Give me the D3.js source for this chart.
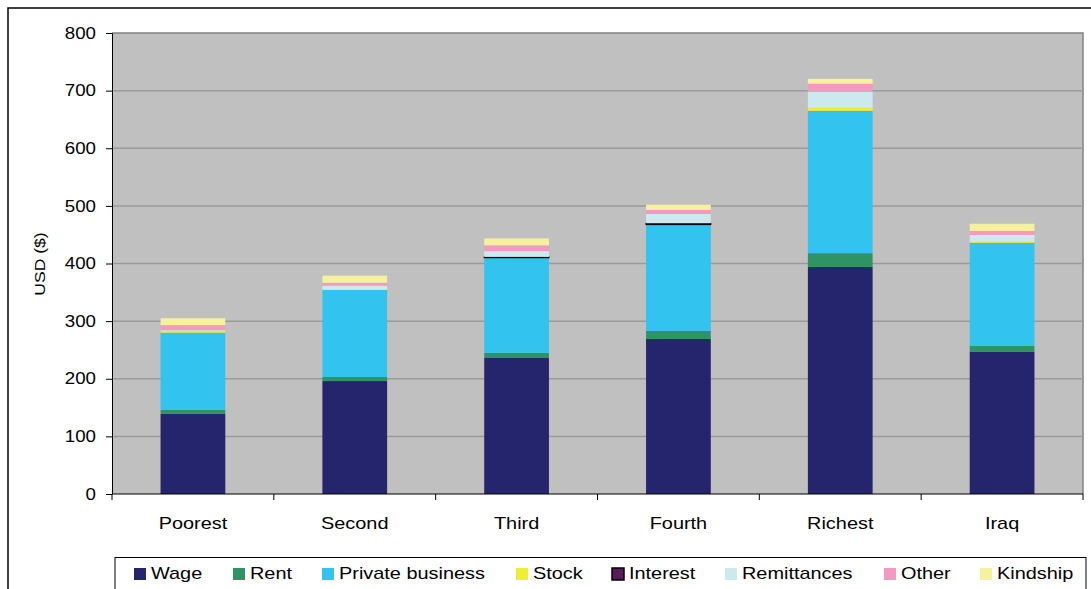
<!DOCTYPE html>
<html><head><meta charset="utf-8">
<script src="https://cdn.jsdelivr.net/npm/d3@7"></script>
<style>body{margin:0;background:#fff}svg{display:block;font-family:"Liberation Sans",Arial,sans-serif}</style>
</head><body><svg id="c" width="1091" height="589"></svg>
<script>
const categories = ["Poorest","Second","Third","Fourth","Richest","Iraq"];
const seriesNames = ["Wage","Rent","Private business","Stock","Interest","Remittances","Other","Kindship"];
const seriesColors = ["#25256E","#2E9465","#33C3EF","#EEEE33","#5A1A5A","#CCEAEE","#F39AC2","#F5F19E"];
const wage = [139,196,236,269,394,246.5];
const rent = [7,7,9,14,24,10.5];
const privateBusiness = [134,151,165,184.5,247,179];
const stock = [3.5,0.5,0,0,5,1.5];
const interest = [0,0,1.5,2.5,0,0];
const remittances = [1,7,10,16,28,12];
const other = [8.5,5,10,7,14,7];
const kindship = [12,12.5,12,9,8.5,12.5];
const yTicks = [0,100,200,300,400,500,600,700,800];

const SX = 1.17; // horizontal stretch of the original text rendering
const seriesValues = [wage,rent,privateBusiness,stock,interest,remittances,other,kindship];
const rows = categories.map((c,i)=>{const o={cat:c}; seriesNames.forEach((s,j)=>o[s]=seriesValues[j][i]); return o;});
const stacked = d3.stack().keys(seriesNames)(rows);

const svg = d3.select("#c");
svg.append("rect").attr("x",8).attr("y",8).attr("width",1100).attr("height",600).attr("fill","#fff").attr("stroke","#000").attr("stroke-width",1.5);

const L=112,T=33,R=1083,B=494;
const x = d3.scaleBand().domain(categories).range([L,R]).paddingInner(0.6).paddingOuter(0.3);
const y = d3.scaleLinear().domain([0,800]).range([B,T]);

svg.append("rect").attr("x",L).attr("y",T).attr("width",R-L).attr("height",B-T).attr("fill","#C0C0C0");
svg.append("path").attr("d",`M${L},${T}H${R}V${B}`).attr("fill","none").attr("stroke","#808080").attr("stroke-width",1.5);
svg.append("g").selectAll("line").data(yTicks.filter(t=>t>0&&t<800)).join("line")
  .attr("x1",L).attr("x2",R).attr("y1",d=>y(d)).attr("y2",d=>y(d)).attr("stroke","#9A9A9A").attr("stroke-width",1.5);

stacked.forEach((s,j)=>{
  svg.append("g").selectAll("rect").data(s).join("rect")
    .attr("x",d=>x(d.data.cat)).attr("width",x.bandwidth())
    .attr("y",d=>y(d[1])).attr("height",d=>Math.max(0,y(d[0])-y(d[1])))
    .attr("fill",seriesColors[j])
    .attr("stroke",d=>(seriesNames[j]==="Interest"&&d[1]-d[0]>0)?"#000":"none")
    .attr("stroke-width",1);
});

const yAxis = d3.axisLeft(y).tickValues(yTicks).tickSize(6).tickPadding(8).tickFormat(d3.format("d"));
const gy = svg.append("g").attr("transform",`translate(${L},0)`).call(yAxis);
gy.select(".domain").attr("stroke","#000");
gy.selectAll(".tick line").attr("stroke","#000");
gy.selectAll("text").attr("font-size",16).attr("fill","#000").attr("font-family","Liberation Sans, Arial, sans-serif")
  .attr("x",0).attr("transform",`translate(-16,0) scale(${SX},1)`);

svg.append("line").attr("x1",L).attr("x2",R).attr("y1",B).attr("y2",B).attr("stroke","#000");
const bounds = d3.range(categories.length+1).map(i=>L+i*(R-L)/categories.length);
svg.append("g").selectAll("line").data(bounds).join("line")
  .attr("x1",d=>d).attr("x2",d=>d).attr("y1",B).attr("y2",B+6).attr("stroke","#000");
svg.append("g").selectAll("text").data(categories).join("text")
  .attr("transform",d=>`translate(${x(d)+x.bandwidth()/2},529) scale(${SX},1)`).attr("text-anchor","middle")
  .attr("font-size",17).text(d=>d);

svg.append("text").attr("transform",`translate(45,264) rotate(-90) scale(${SX},1)`).attr("text-anchor","middle")
  .attr("font-size",15).text("USD ($)");

svg.append("rect").attr("x",115).attr("y",557.5).attr("width",971).attr("height",50).attr("fill","#fff").attr("stroke","#000").attr("stroke-width",1);
const legX = [134,233,322,516,612,725,884,980];
const lg = svg.append("g").selectAll("g").data(seriesNames).join("g")
  .attr("transform",(d,i)=>`translate(${legX[i]},568)`);
lg.append("rect").attr("width",12).attr("height",12).attr("fill",(d,i)=>seriesColors[i])
  .attr("stroke",d=>d==="Interest"?"#000":"none").attr("stroke-width",1.5);
lg.append("text").attr("transform",`translate(17,11) scale(${SX},1)`).attr("font-size",17).text(d=>d);
</script></body></html>
